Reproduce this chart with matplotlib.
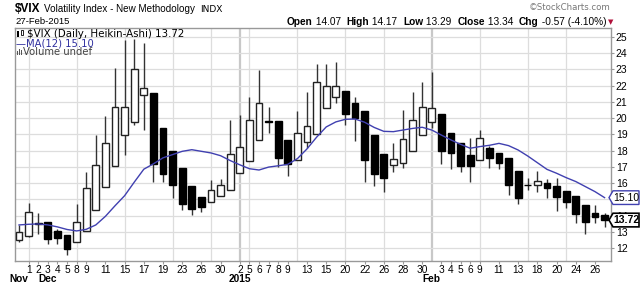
import numpy as np
import matplotlib.pyplot as plt
from matplotlib.patches import Polygon, Rectangle
from matplotlib.transforms import blended_transform_factory

# trading days shown (Heikin-Ashi candles)
dates = ["2014-11-28",
         "2014-12-01", "2014-12-02", "2014-12-03", "2014-12-04", "2014-12-05",
         "2014-12-08", "2014-12-09", "2014-12-10", "2014-12-11", "2014-12-12",
         "2014-12-15", "2014-12-16", "2014-12-17", "2014-12-18", "2014-12-19",
         "2014-12-22", "2014-12-23", "2014-12-24", "2014-12-26",
         "2014-12-29", "2014-12-30", "2014-12-31", "2015-01-02",
         "2015-01-05", "2015-01-06", "2015-01-07", "2015-01-08", "2015-01-09",
         "2015-01-12", "2015-01-13", "2015-01-14", "2015-01-15", "2015-01-16",
         "2015-01-20", "2015-01-21", "2015-01-22", "2015-01-23",
         "2015-01-26", "2015-01-27", "2015-01-28", "2015-01-29", "2015-01-30",
         "2015-02-02", "2015-02-03", "2015-02-04", "2015-02-05", "2015-02-06",
         "2015-02-09", "2015-02-10", "2015-02-11", "2015-02-12", "2015-02-13",
         "2015-02-17", "2015-02-18", "2015-02-19", "2015-02-20",
         "2015-02-23", "2015-02-24", "2015-02-25", "2015-02-26", "2015-02-27"]

ha_open = [12.50, 12.75, 13.55, 13.57, 13.05, 12.81, 12.36, 13.05, 14.34, 15.78,
           17.07, 18.95, 19.77, 21.41, 21.56, 19.36, 17.99, 16.91, 15.84, 15.12,
           14.86, 15.20, 15.57, 16.64, 17.38, 18.65, 19.84, 19.82, 18.65, 17.42,
           18.50, 18.99, 20.60, 21.29, 21.68, 20.94, 20.45, 18.95, 17.77, 17.09,
           17.25, 17.97, 18.95, 19.77, 20.23, 19.10, 18.48, 17.73, 17.42, 18.14,
           17.87, 17.52, 16.74, 15.90, 15.88, 16.02, 15.84, 15.53, 15.23, 14.65,
           14.14, 14.04]
ha_high = [13.42, 14.75, 14.14, 13.62, 13.16, 12.81, 14.69, 16.70, 18.95, 20.12,
           23.05, 24.80, 24.85, 24.60, 21.56, 19.36, 17.99, 16.91, 15.84, 15.12,
           16.19, 16.25, 19.88, 20.18, 21.31, 22.95, 20.70, 19.82, 18.65, 20.43,
           21.62, 23.30, 23.30, 23.46, 21.68, 21.31, 20.45, 18.95, 17.77, 18.44,
           20.49, 21.58, 22.19, 22.81, 20.23, 19.10, 18.48, 18.75, 19.26, 18.30,
           17.87, 17.52, 16.74, 16.33, 16.74, 16.25, 16.29, 15.53, 15.23, 14.65,
           14.65, 14.18]
ha_low = [12.34, 12.70, 12.85, 12.23, 12.23, 11.58, 12.36, 13.05, 14.34, 15.78,
          17.07, 17.75, 19.60, 19.26, 16.09, 16.09, 15.06, 14.34, 14.04, 14.24,
          14.86, 15.20, 15.57, 16.64, 17.38, 18.65, 19.06, 17.00, 16.43, 17.42,
          18.18, 18.99, 20.60, 20.94, 19.57, 18.61, 16.05, 15.82, 15.47, 16.66,
          16.90, 17.97, 18.95, 19.36, 17.15, 16.84, 16.70, 16.05, 17.42, 16.95,
          16.84, 15.27, 14.69, 15.57, 15.47, 15.10, 14.28, 14.49, 13.52, 12.85,
          13.52, 13.32]
ha_close = [12.97, 14.24, 13.48, 12.56, 12.64, 11.95, 13.63, 15.68, 17.11, 18.48,
            20.70, 20.66, 22.99, 21.82, 17.15, 16.54, 15.88, 14.71, 14.41, 14.55,
            15.55, 15.88, 17.77, 18.20, 19.88, 20.94, 19.78, 17.52, 17.15, 19.06,
            19.51, 22.23, 21.97, 22.00, 20.23, 19.98, 17.40, 16.54, 16.33, 17.46,
            18.69, 19.88, 20.66, 20.59, 17.97, 17.87, 17.05, 17.05, 18.79, 17.56,
            17.25, 15.88, 15.06, 15.86, 16.13, 15.68, 15.16, 14.86, 14.08, 13.59,
            13.89, 13.72]
ma12 = [13.42, 13.46, 13.48, 13.42, 13.30, 13.14, 13.05, 13.15, 13.42, 13.95,
        14.60, 15.22, 16.05, 16.85, 17.18, 17.55, 17.75, 17.95, 18.05, 17.95,
        17.85, 17.68, 17.38, 17.12, 16.88, 16.80, 16.98, 17.06, 17.15, 17.50,
        18.10, 18.82, 19.45, 19.76, 19.92, 19.94, 19.74, 19.42, 19.18, 19.16,
        19.26, 19.36, 19.43, 19.26, 18.95, 18.65, 18.38, 18.14, 18.24, 18.32,
        18.44, 18.30, 18.03, 17.66, 17.25, 16.84, 16.60, 16.33, 16.09, 15.78,
        15.47, 15.10]

labeled_dates = ["2014-12-01", "2014-12-02", "2014-12-03", "2014-12-04", "2014-12-05",
                 "2014-12-08", "2014-12-09", "2014-12-11", "2014-12-15", "2014-12-17",
                 "2014-12-19", "2014-12-23", "2014-12-26", "2014-12-30",
                 "2015-01-02", "2015-01-05", "2015-01-06", "2015-01-07", "2015-01-08",
                 "2015-01-09", "2015-01-13", "2015-01-15", "2015-01-20", "2015-01-22",
                 "2015-01-26", "2015-01-28", "2015-01-30",
                 "2015-02-03", "2015-02-04", "2015-02-05", "2015-02-06", "2015-02-09",
                 "2015-02-11", "2015-02-13", "2015-02-18", "2015-02-20", "2015-02-24",
                 "2015-02-26"]
grid_dates = ["2014-12-01", "2014-12-08", "2014-12-15", "2014-12-22", "2014-12-29",
              "2015-01-02", "2015-01-05", "2015-01-12", "2015-01-20", "2015-01-26",
              "2015-02-02", "2015-02-09", "2015-02-17", "2015-02-23"]
major_grid = ["2015-01-02", "2015-02-02"]
month_labels = [("Nov", "2014-11-28"), ("Dec", "2014-12-03"),
                ("2015", "2015-01-02"), ("Feb", "2015-02-02")]
yticks = list(range(12, 26))

last_close = 13.72
last_ma = 15.10

W, H = 640, 285
fig = plt.figure(figsize=(W / 100, H / 100), dpi=100)
ax = fig.add_axes([15 / W, 24 / H, 596 / W, 233 / H])

x = np.arange(len(dates))
o = np.array(ha_open)
h = np.array(ha_high)
l = np.array(ha_low)
c = np.array(ha_close)

# grid
for d in grid_dates:
    i = dates.index(d)
    if d in major_grid:
        ax.axvline(i, color="#c8c8c8", lw=1.6, zorder=0)
    else:
        ax.axvline(i, color="#dddddd", lw=0.9, zorder=0)
for v in yticks:
    ax.axhline(v, color="#dddddd", lw=0.9, zorder=0)

# candles
ax.vlines(x, l, h, color="#333333", lw=1.0, zorder=2)
up = c >= o
body_bot = np.minimum(o, c)
body_h = np.maximum(np.abs(c - o), 0.04)
ax.bar(x[up], body_h[up], bottom=body_bot[up], width=0.72,
       color="white", edgecolor="#222222", linewidth=1.0, zorder=3)
ax.bar(x[~up], body_h[~up], bottom=body_bot[~up], width=0.72,
       color="black", edgecolor="black", linewidth=1.0, zorder=3)

# moving average
ax.plot(x, ma12, color="#4040b0", lw=1.0, zorder=4)

ax.set_xlim(-0.42, 61.67)
ax.set_ylim(11.2, 25.54)

for s in ax.spines.values():
    s.set_color("#999999")
    s.set_linewidth(1.0)

ax.yaxis.tick_right()
ax.set_yticks(yticks)
ax.set_yticklabels([str(v) for v in yticks], fontsize=7.5, family="Liberation Sans")
ax.tick_params(axis="y", length=2, pad=1.5, color="#999999")

ax.set_xticks([dates.index(d) for d in labeled_dates])
ax.set_xticklabels([str(int(d[-2:])) for d in labeled_dates], fontsize=7.3,
                   family="Liberation Sans")
ax.tick_params(axis="x", length=2, pad=1.0, color="#999999")

tr = blended_transform_factory(ax.transData, fig.transFigure)
for name, d in month_labels:
    ax.text(dates.index(d), 1 - 279.5 / H, name, transform=tr, ha="center", va="center",
            fontsize=7.3, fontweight="bold", family="Liberation Sans")

# price tags on the right
tb = blended_transform_factory(ax.transAxes, ax.transData)
x0 = (609 - 15) / 596
x1 = (613 - 15) / 596
x2 = (639 - 15) / 596
for val, ec, lw, fw in [(last_ma, "#4040b0", 1.0, "normal"), (last_close, "black", 1.2, "bold")]:
    poly = Polygon([(x0, val), (x1, val + 0.42), (x2, val + 0.42), (x2, val - 0.42),
                    (x1, val - 0.42)], closed=True, transform=tb, facecolor="white",
                   edgecolor=ec, lw=lw, clip_on=False, zorder=6)
    ax.add_patch(poly)
    ax.text((x1 + x2) / 2, val, f"{val:.2f}", transform=tb, ha="center", va="center",
            fontsize=7.5, fontweight=fw, family="Liberation Sans", clip_on=False, zorder=7)

# header
def fx(px):
    return px / W

def fy(py):
    return 1 - py / H

fig.text(fx(15), fy(9), "$VIX", fontsize=8.5, fontweight="bold", family="Liberation Sans",
         va="center")
fig.text(fx(44), fy(9), "Volatility Index - New Methodology", fontsize=7.1,
         family="Liberation Sans", va="center")
fig.text(fx(200), fy(9), "INDX", fontsize=6.5, family="DejaVu Sans", va="center")
fig.text(fx(15), fy(22), "27-Feb-2015", fontsize=6.8, family="Liberation Sans", va="center")
fig.text(fx(610), fy(8), "\u00a9StockCharts.com", fontsize=6.2, color="#777777",
         family="DejaVu Sans", va="center", ha="right")

parts = [("Open", True), (" 14.07  ", False), ("High", True), (" 14.17  ", False),
         ("Low", True), (" 13.29  ", False), ("Close", True), (" 13.34  ", False),
         ("Chg", True), (" -0.57 (-4.10%)", False)]
fig.canvas.draw()
renderer = fig.canvas.get_renderer()
xp = 287
for txt, bold in parts:
    t = fig.text(fx(xp), fy(22), txt, fontsize=7.3, family="Liberation Sans",
                 fontweight="bold" if bold else "normal", va="center")
    xp += t.get_window_extent(renderer).width
fig.text(fx(xp + 1.5), fy(22), "\u25bc", fontsize=5, color="#b0103a", va="center",
         family="DejaVu Sans")

# legend inside plot
ax.add_patch(Rectangle((fx(17), fy(36.5)), 2 / W, 5 / H, transform=fig.transFigure,
                       facecolor="black", clip_on=False))
ax.add_patch(Rectangle((fx(20.5), fy(35.5)), 2 / W, 5 / H, transform=fig.transFigure,
                       facecolor="white", edgecolor="black", lw=0.6, clip_on=False))
fig.text(fx(27), fy(34), "$VIX (Daily, Heikin-Ashi) 13.72", fontsize=7.4,
         family="DejaVu Sans", va="center")
fig.text(fx(16), fy(43.5), "\u2014MA(12) 15.10", fontsize=7.2, family="DejaVu Sans",
         color="#3030a0", va="center")
for k, bh in enumerate([4, 6, 5]):
    ax.add_patch(Rectangle((fx(17 + 1.8 * k), fy(55)), 1.2 / W, bh / H,
                           transform=fig.transFigure, facecolor="#555555", clip_on=False))
fig.text(fx(23), fy(52), "Volume undef", fontsize=7.2, family="DejaVu Sans",
         color="#444444", va="center")

fig.savefig("out.png", dpi=100)
